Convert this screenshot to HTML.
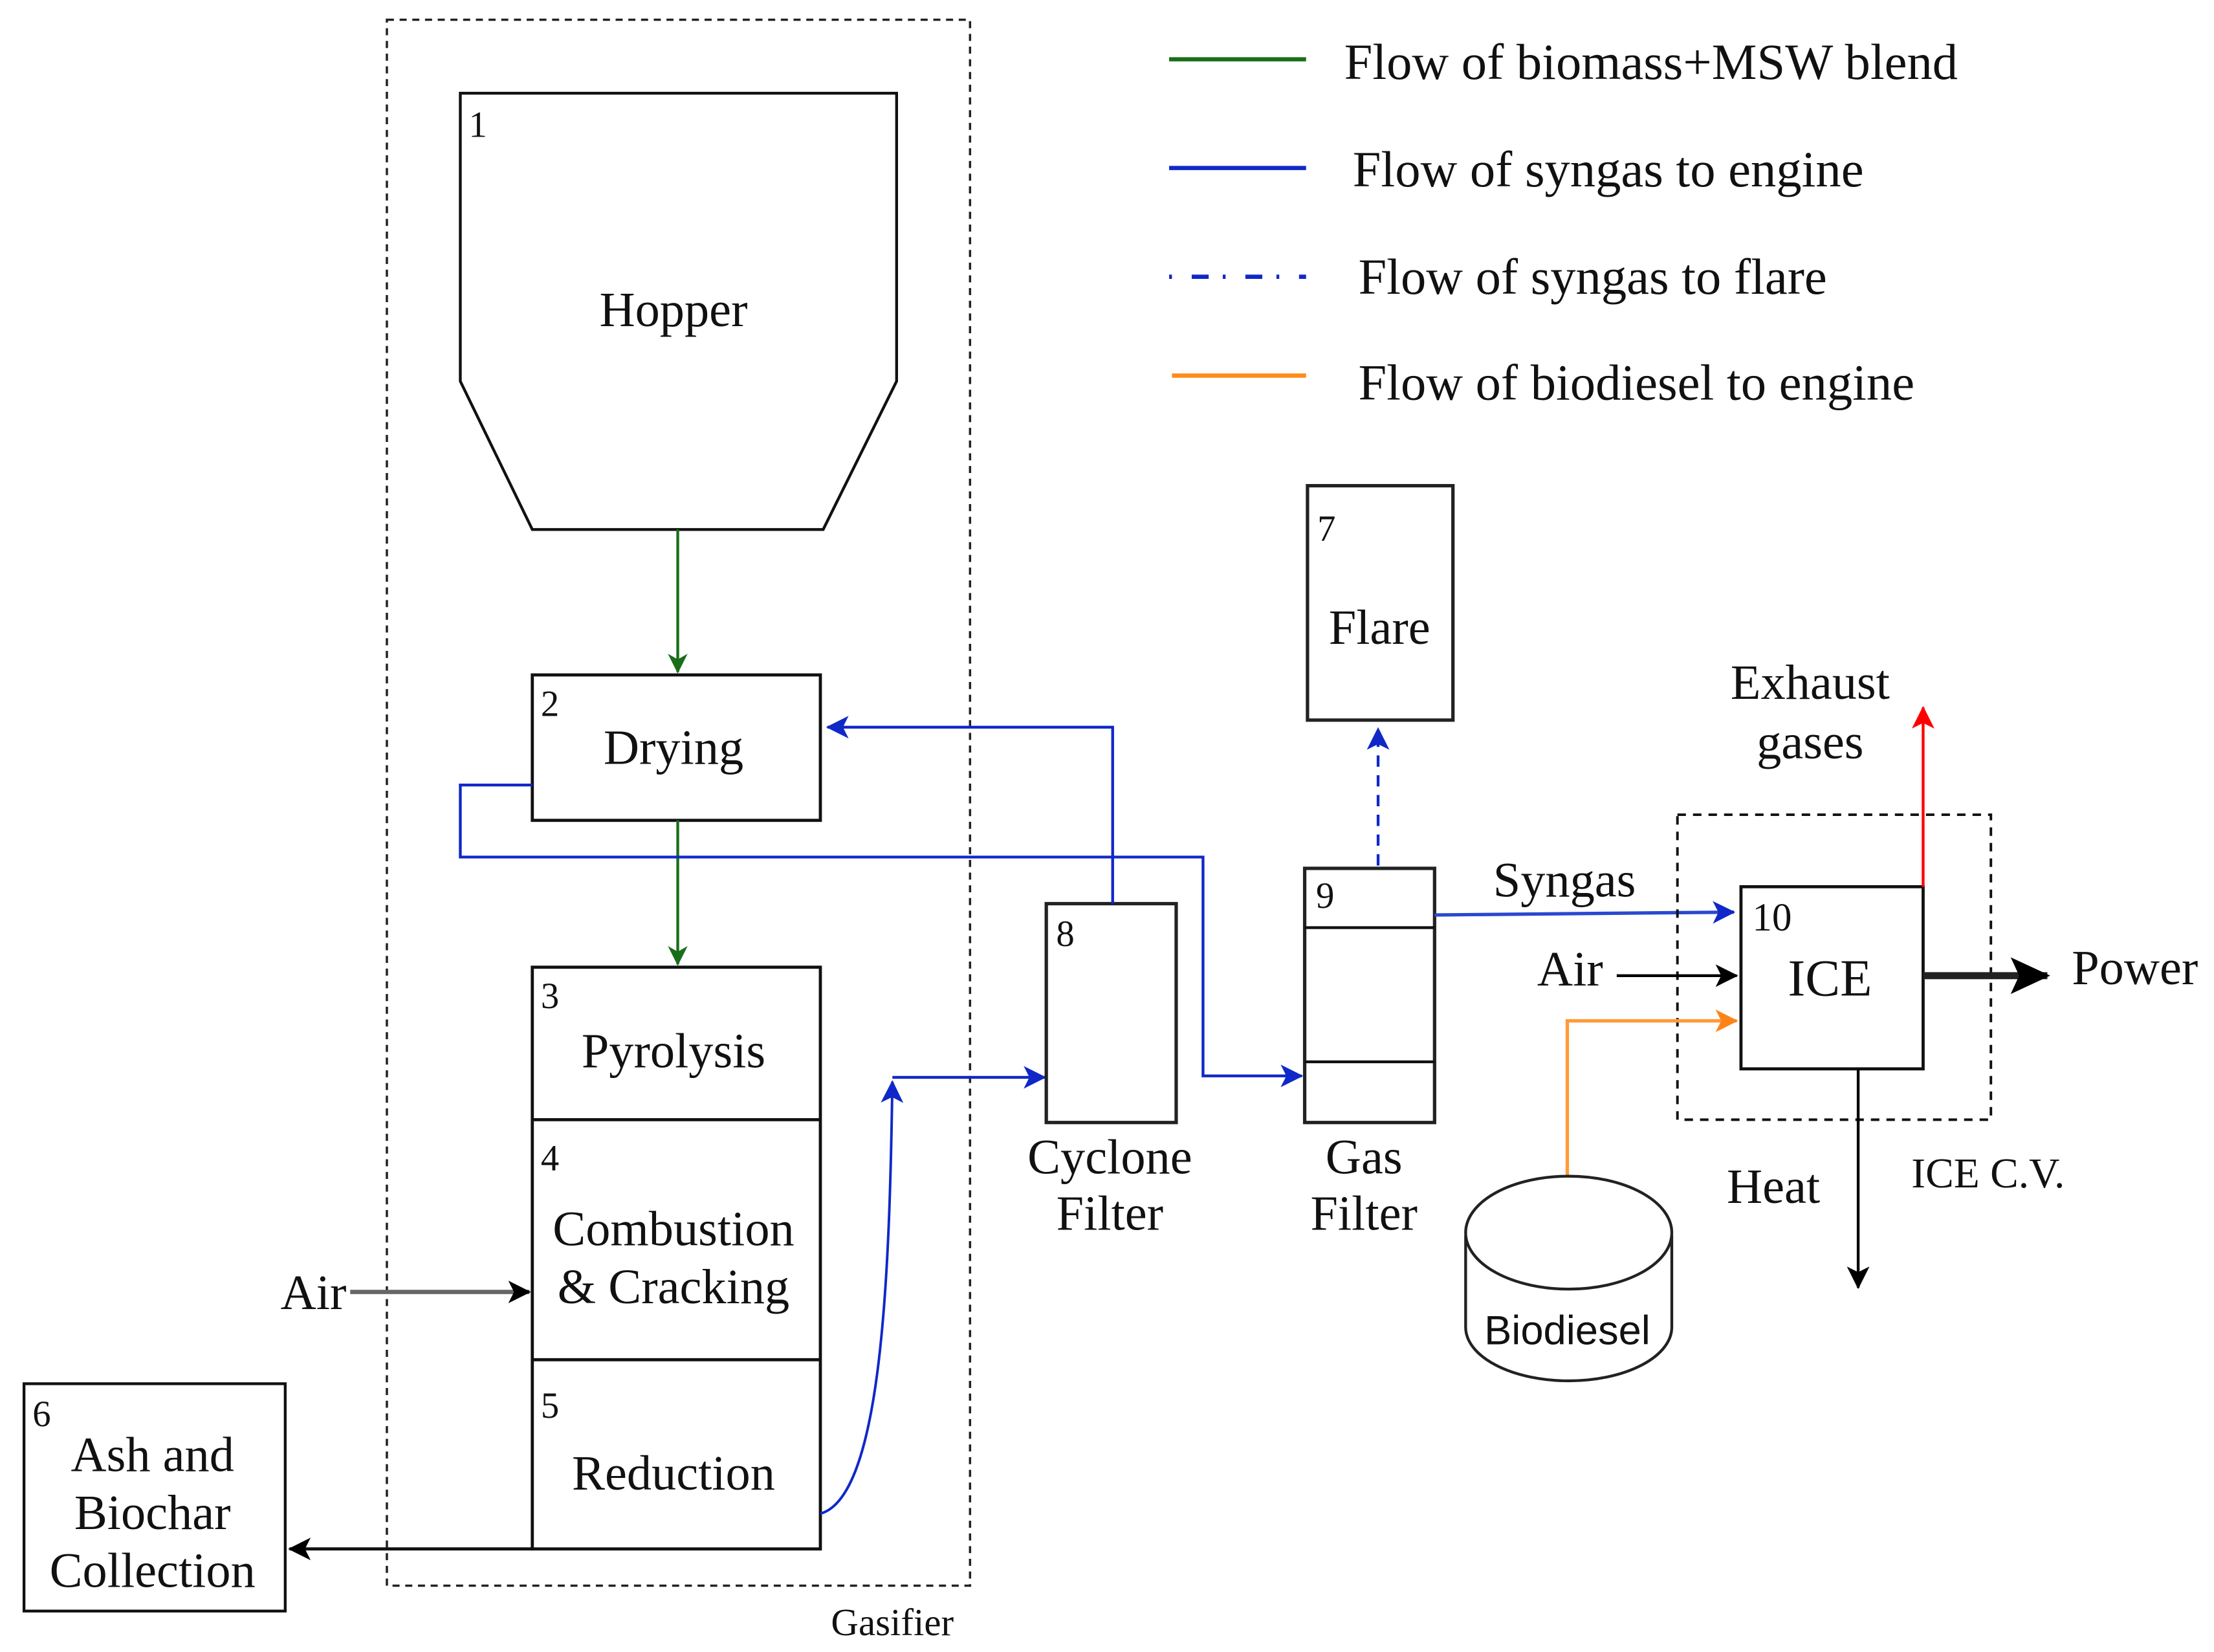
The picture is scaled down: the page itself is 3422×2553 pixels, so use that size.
<!DOCTYPE html>
<html><head><meta charset="utf-8"><style>
html,body{margin:0;padding:0;background:#fff;}
svg{display:block;}
text{font-family:"Liberation Serif","DejaVu Serif",serif;fill:#111;}
</style></head><body>
<svg width="3422" height="2553" viewBox="0 0 1568 1170" preserveAspectRatio="none" xmlns="http://www.w3.org/2000/svg">
<defs>
<marker id="ag" markerWidth="14" markerHeight="14" refX="13" refY="7" orient="auto" markerUnits="userSpaceOnUse"><path d="M0,0 L14,7 L0,14 L4,7 z" fill="#1a6e1a"/></marker>
<marker id="ab" markerWidth="16" markerHeight="16" refX="15" refY="8" orient="auto" markerUnits="userSpaceOnUse"><path d="M0,0 L16,8 L0,16 L4,8 z" fill="#1028c8"/></marker>
<marker id="ao" markerWidth="16" markerHeight="16" refX="15" refY="8" orient="auto" markerUnits="userSpaceOnUse"><path d="M0,0 L16,8 L0,16 L4,8 z" fill="#ff8418"/></marker>
<marker id="ar" markerWidth="16" markerHeight="16" refX="15" refY="8" orient="auto" markerUnits="userSpaceOnUse"><path d="M0,0 L16,8 L0,16 L4,8 z" fill="#ff0000"/></marker>
<marker id="ak" markerWidth="16" markerHeight="16" refX="15" refY="8" orient="auto" markerUnits="userSpaceOnUse"><path d="M0,0 L16,8 L0,16 L4,8 z" fill="#000"/></marker>
<marker id="akb" markerWidth="28" markerHeight="26" refX="26" refY="13" orient="auto" markerUnits="userSpaceOnUse"><path d="M0,0 L28,13 L0,26 L6,13 z" fill="#000"/></marker>
</defs>

<rect x="274" y="14" width="413" height="1109" fill="none" stroke="#222" stroke-width="1.6" stroke-dasharray="5,4"/>
<text x="632" y="1158" font-size="27" text-anchor="middle">Gasifier</text>

<polygon points="326,66 635,66 635,270 583,375 377,375 326,270" fill="none" stroke="#111" stroke-width="2"/>
<text x="332" y="97" font-size="26">1</text>
<text x="477" y="231" font-size="35" text-anchor="middle">Hopper</text>

<line x1="480" y1="375" x2="480" y2="476" stroke="#1a6e1a" stroke-width="2" marker-end="url(#ag)"/>

<rect x="377" y="478" width="204" height="103" fill="#fff" stroke="#111" stroke-width="2.2"/>
<text x="383" y="507" font-size="26">2</text>
<text x="477" y="541" font-size="35" text-anchor="middle">Drying</text>

<line x1="480" y1="581" x2="480" y2="683" stroke="#1a6e1a" stroke-width="2" marker-end="url(#ag)"/>

<polyline points="377,556 326,556 326,607 852,607 852,762 922,762" fill="none" stroke="#1028c8" stroke-width="2" marker-end="url(#ab)"/>

<rect x="377" y="685" width="204" height="412" fill="none" stroke="#111" stroke-width="2.2"/>
<line x1="377" y1="793" x2="581" y2="793" stroke="#111" stroke-width="2.2"/>
<line x1="377" y1="963" x2="581" y2="963" stroke="#111" stroke-width="2.2"/>
<text x="383" y="714" font-size="26">3</text>
<text x="477" y="756" font-size="35" text-anchor="middle">Pyrolysis</text>
<text x="383" y="829" font-size="26">4</text>
<text x="477" y="882" font-size="35" text-anchor="middle">Combustion</text>
<text x="477" y="923" font-size="35" text-anchor="middle">&amp; Cracking</text>
<text x="383" y="1004" font-size="26">5</text>
<text x="477" y="1055" font-size="35" text-anchor="middle">Reduction</text>

<text x="222" y="927" font-size="35" text-anchor="middle">Air</text>
<line x1="248" y1="915" x2="375" y2="915" stroke="#666" stroke-width="3" marker-end="url(#ak)"/>

<rect x="17" y="980" width="185" height="161" fill="none" stroke="#111" stroke-width="2"/>
<text x="23" y="1010" font-size="26">6</text>
<text x="108" y="1042" font-size="35" text-anchor="middle">Ash and</text>
<text x="108" y="1083" font-size="35" text-anchor="middle">Biochar</text>
<text x="108" y="1124" font-size="35" text-anchor="middle">Collection</text>
<line x1="377" y1="1097" x2="205" y2="1097" stroke="#111" stroke-width="2.2" marker-end="url(#ak)"/>

<path d="M581,1072 C625,1060 630,900 632,766" fill="none" stroke="#1028c8" stroke-width="1.8" marker-end="url(#ab)"/>
<polyline points="632,763 740,763" fill="none" stroke="#1028c8" stroke-width="2" marker-end="url(#ab)"/>

<rect x="741" y="640" width="92" height="155" fill="none" stroke="#222" stroke-width="2.4"/>
<text x="748" y="670" font-size="26">8</text>
<text x="786" y="831" font-size="35" text-anchor="middle">Cyclone</text>
<text x="786" y="871" font-size="35" text-anchor="middle">Filter</text>
<polyline points="788,640 788,515 586,515" fill="none" stroke="#1028c8" stroke-width="2" marker-end="url(#ab)"/>

<rect x="924" y="615" width="92" height="180" fill="none" stroke="#222" stroke-width="2.4"/>
<line x1="924" y1="657" x2="1016" y2="657" stroke="#111" stroke-width="2"/>
<line x1="924" y1="752" x2="1016" y2="752" stroke="#111" stroke-width="2"/>
<text x="932" y="643" font-size="26">9</text>
<text x="966" y="831" font-size="35" text-anchor="middle">Gas</text>
<text x="966" y="871" font-size="35" text-anchor="middle">Filter</text>

<rect x="926" y="344" width="103" height="166" fill="none" stroke="#222" stroke-width="2.4"/>
<text x="933" y="383" font-size="26">7</text>
<text x="977" y="456" font-size="35" text-anchor="middle">Flare</text>
<line x1="976" y1="613" x2="976" y2="516" stroke="#1028c8" stroke-width="2" stroke-dasharray="8,6" marker-end="url(#ab)"/>

<text x="1108" y="635" font-size="35" text-anchor="middle">Syngas</text>
<line x1="1016" y1="648" x2="1228" y2="646" stroke="#2a48d0" stroke-width="2.4" marker-end="url(#ab)"/>

<rect x="1188" y="577" width="222" height="216" fill="none" stroke="#111" stroke-width="1.8" stroke-dasharray="6,5"/>
<text x="1408" y="841" font-size="30" text-anchor="middle">ICE C.V.</text>

<rect x="1233" y="628" width="129" height="129" fill="#fff" stroke="#111" stroke-width="2.2"/>
<text x="1241" y="659" font-size="28">10</text>
<text x="1296" y="705" font-size="37" text-anchor="middle">ICE</text>

<text x="1112" y="698" font-size="35" text-anchor="middle">Air</text>
<line x1="1145" y1="691" x2="1230" y2="691" stroke="#000" stroke-width="2" marker-end="url(#ak)"/>

<polyline points="1110,833 1110,723 1230,723" fill="none" stroke="#ff9a3a" stroke-width="2.4" marker-end="url(#ao)"/>

<line x1="1362" y1="628" x2="1362" y2="501" stroke="#ff0000" stroke-width="2" marker-end="url(#ar)"/>
<text x="1282" y="495" font-size="35" text-anchor="middle">Exhaust</text>
<text x="1282" y="537" font-size="35" text-anchor="middle">gases</text>

<line x1="1362" y1="691" x2="1450" y2="691" stroke="#222" stroke-width="5" marker-end="url(#akb)"/>
<text x="1512" y="697" font-size="35" text-anchor="middle">Power</text>

<line x1="1316" y1="757" x2="1316" y2="912" stroke="#000" stroke-width="2" marker-end="url(#ak)"/>
<text x="1256" y="852" font-size="35" text-anchor="middle">Heat</text>

<path d="M1038,875 L1038,940 A73,38 0 0 0 1184,940 L1184,875" fill="#fff" stroke="#222" stroke-width="2"/>
<ellipse cx="1111" cy="873" rx="73" ry="40" fill="#fff" stroke="#222" stroke-width="2"/>
<text x="1110" y="952" font-size="29" text-anchor="middle" style="font-family:'Liberation Sans',sans-serif">Biodiesel</text>

<line x1="828" y1="42" x2="925" y2="42" stroke="#1a6e1a" stroke-width="3"/>
<text x="952" y="56" font-size="36">Flow of biomass+MSW blend</text>
<line x1="828" y1="119" x2="925" y2="119" stroke="#1028c8" stroke-width="3"/>
<text x="958" y="132" font-size="36">Flow of syngas to engine</text>
<line x1="828" y1="196" x2="925" y2="196" stroke="#1028c8" stroke-width="3" stroke-dasharray="2,14,12,10"/>
<text x="962" y="208" font-size="36">Flow of syngas to flare</text>
<line x1="830" y1="266" x2="925" y2="266" stroke="#ff8c1a" stroke-width="3"/>
<text x="962" y="283" font-size="36">Flow of biodiesel to engine</text>
</svg>
</body></html>
